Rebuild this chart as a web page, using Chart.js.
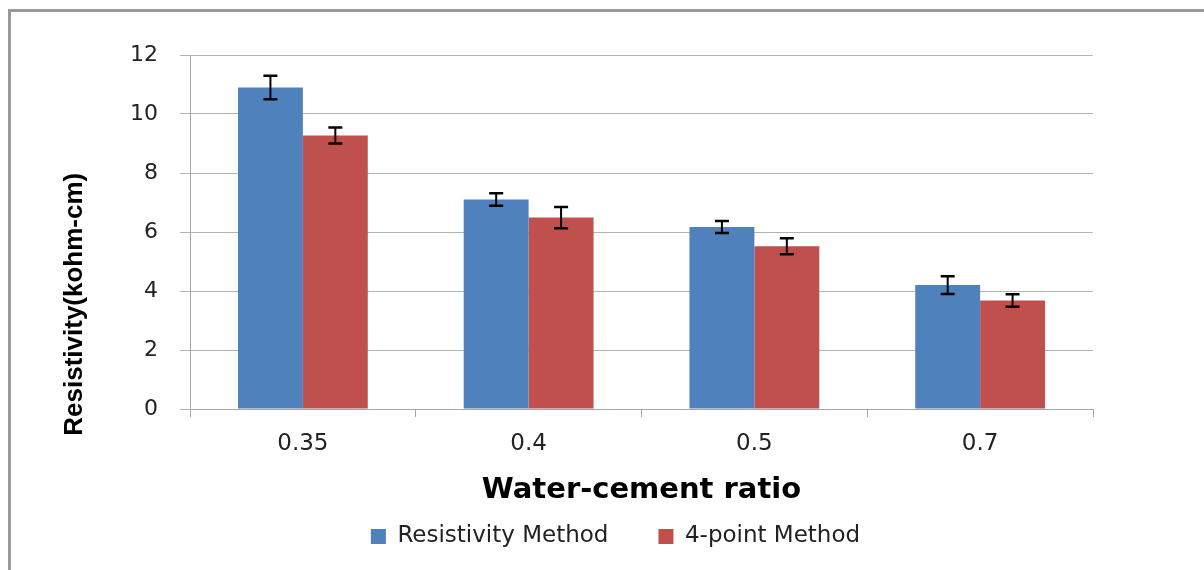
<!DOCTYPE html>
<html>
<head>
<meta charset="utf-8">
<script src="https://cdn.jsdelivr.net/npm/chart.js@4.4.1/dist/chart.umd.min.js"></script>
<style>
    body { margin: 0; background: #fff; }
    .wrap { position: relative; width: 1204px; height: 570px; }
    .frame {
        position: absolute; left: 8px; top: 9px; width: 1300px; height: 700px;
        border-top: 3px solid #999; border-left: 3px solid #999;
        pointer-events: none;
    }
</style>
</head>
<body>
<div class="wrap">
    <canvas id="resistivityChart" width="1204" height="570"></canvas>
    <div class="frame"></div>
</div>
<script>
// Data
const ratios = ['0.35', '0.4', '0.5', '0.7'];
const resistivityMethod = [10.9, 7.1, 6.17, 4.2];
const resistivityErr = [0.4, 0.21, 0.2, 0.3];
const fourPointMethod = [9.27, 6.49, 5.52, 3.68];
const fourPointErr = [0.27, 0.36, 0.27, 0.21];
const yTicks = [0, 2, 4, 6, 8, 10, 12];

const errors = [resistivityErr, fourPointErr];

// Simple error bars, drawn through the y scale
const errorBars = {
    id: 'errorBars',
    afterDatasetsDraw(chart) {
        const ctx = chart.ctx;
        const yScale = chart.scales.y;
        ctx.save();
        ctx.strokeStyle = '#000';
        chart.data.datasets.forEach((ds, i) => {
            const meta = chart.getDatasetMeta(i);
            meta.data.forEach((bar, j) => {
                const v = ds.data[j];
                const e = errors[i][j];
                const top = yScale.getPixelForValue(v + e);
                const bottom = yScale.getPixelForValue(v - e);
                ctx.lineWidth = 2;
                ctx.beginPath();
                ctx.moveTo(bar.x, top);
                ctx.lineTo(bar.x, bottom);
                ctx.stroke();
                ctx.lineWidth = 2.5;
                ctx.beginPath();
                ctx.moveTo(bar.x - 7, top);
                ctx.lineTo(bar.x + 7, top);
                ctx.moveTo(bar.x - 7, bottom);
                ctx.lineTo(bar.x + 7, bottom);
                ctx.stroke();
            });
        });
        ctx.restore();
    }
};

const ctx = document.getElementById('resistivityChart').getContext('2d');

// the axis title sits lower than the plot centre, trailing spaces push it down
const yTitle = 'Resistivity(kohm-cm)' + '\u00a0'.repeat(20);

const resistivityChart = new Chart(ctx, {
    type: 'bar',
    data: {
        labels: ratios,
        datasets: [
            {
                label: 'Resistivity Method',
                backgroundColor: '#4F81BD',
                data: resistivityMethod,
                barPercentage: 1,
                categoryPercentage: 0.575
            },
            {
                label: '4-point Method',
                backgroundColor: '#C0504D',
                data: fourPointMethod,
                barPercentage: 1,
                categoryPercentage: 0.575
            }
        ]
    },
    options: {
        responsive: false,
        animation: false,
        layout: {
            padding: { left: 27, right: 0, top: 55, bottom: 12 }
        },
        scales: {
            x: {
                grid: {
                    offset: true,
                    drawOnChartArea: false,
                    drawTicks: true,
                    tickLength: 8,
                    color: '#a6a6a6'
                },
                border: { color: '#a6a6a6', width: 1 },
                ticks: {
                    color: '#222',
                    padding: 13,
                    font: { family: 'DejaVu Sans', size: 23 }
                },
                title: {
                    display: true,
                    text: 'Water-cement ratio',
                    color: '#000',
                    font: { family: 'DejaVu Sans', size: 29, weight: 'bold' },
                    padding: { top: 0, bottom: -33 }
                },
                afterFit(scale) { scale.height = 66; }
            },
            y: {
                min: 0,
                max: 12,
                afterBuildTicks(scale) {
                    scale.ticks = yTicks.map(v => ({ value: v }));
                },
                grid: {
                    color: '#b3b3b3',
                    tickLength: 10
                },
                border: { color: '#a6a6a6', width: 1 },
                ticks: {
                    color: '#222',
                    padding: 22,
                    font: { family: 'DejaVu Sans', size: 22 }
                },
                title: {
                    display: true,
                    text: yTitle,
                    color: '#000',
                    font: { family: "'Liberation Sans Narrow', 'Liberation Sans', sans-serif", size: 26, weight: 'bold' },
                    padding: { top: 32, bottom: 0 }
                },
                afterFit(scale) { scale.width = 163; }
            },
            // empty axis keeping the plot area clear of the right side
            yRight: {
                position: 'right',
                display: true,
                grid: { display: false },
                border: { display: false },
                ticks: { display: false },
                afterFit(scale) { scale.width = 111; }
            }
        },
        plugins: {
            legend: {
                display: true,
                position: 'bottom',
                labels: {
                    boxWidth: 15,
                    boxHeight: 15,
                    padding: 50,
                    color: '#222',
                    font: { family: 'DejaVu Sans', size: 23 }
                }
            },
            tooltip: { enabled: false }
        }
    },
    plugins: [errorBars]
});
</script>
</body>
</html>
